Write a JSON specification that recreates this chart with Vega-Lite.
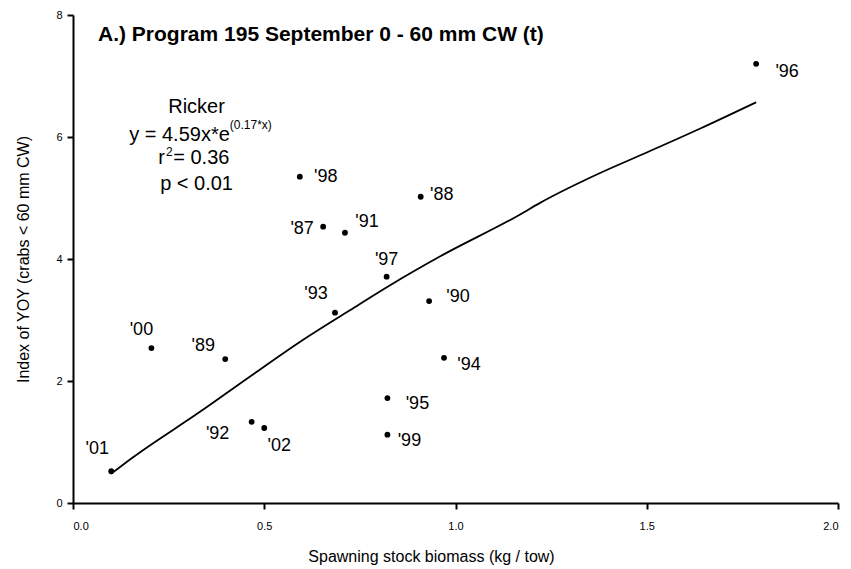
{
  "$schema": "https://vega.github.io/schema/vega-lite/v6.json",
  "width": 765,
  "height": 488,
  "autosize": "none",
  "padding": {"left": 73, "top": 15, "right": 13, "bottom": 66},
  "background": "white",
  "title": {"text": "A.) Program 195 September 0 - 60 mm CW (t)", "anchor": "start", "frame": "group", "dx": 25, "offset": -53, "baseline": "alphabetic", "fontSize": 21, "fontWeight": "bold", "font": "Liberation Sans", "color": "black"},
  "config": {
    "font": "Liberation Sans",
    "view": {"stroke": null},
    "axis": {"domainColor": "black", "domainWidth": 2, "tickColor": "black", "tickWidth": 2, "tickSize": 6, "labelFontSize": 11, "labelColor": "black", "labelFont": "Liberation Sans", "titleFont": "Liberation Sans", "titleFontSize": 16, "titleFontWeight": "normal", "titleColor": "black", "grid": false},
    "text": {"font": "Liberation Sans", "color": "black"}
  },
  "datasets": {
    "obs": [
      {"label": "'87", "ssb": 0.654, "yoy": 4.53},
      {"label": "'88", "ssb": 0.909, "yoy": 5.02},
      {"label": "'89", "ssb": 0.398, "yoy": 2.36},
      {"label": "'90", "ssb": 0.931, "yoy": 3.31},
      {"label": "'91", "ssb": 0.711, "yoy": 4.43},
      {"label": "'92", "ssb": 0.467, "yoy": 1.33},
      {"label": "'93", "ssb": 0.685, "yoy": 3.12},
      {"label": "'94", "ssb": 0.970, "yoy": 2.38},
      {"label": "'95", "ssb": 0.822, "yoy": 1.72},
      {"label": "'96", "ssb": 1.786, "yoy": 7.20},
      {"label": "'97", "ssb": 0.820, "yoy": 3.71},
      {"label": "'98", "ssb": 0.593, "yoy": 5.35},
      {"label": "'99", "ssb": 0.822, "yoy": 1.12},
      {"label": "'00", "ssb": 0.205, "yoy": 2.54},
      {"label": "'01", "ssb": 0.100, "yoy": 0.52},
      {"label": "'02", "ssb": 0.500, "yoy": 1.23}
    ],
    "fit": [
      {"ssb": 0.100, "yoy": 0.48},
      {"ssb": 0.157, "yoy": 0.75},
      {"ssb": 0.331, "yoy": 1.49},
      {"ssb": 0.462, "yoy": 2.07},
      {"ssb": 0.593, "yoy": 2.64},
      {"ssb": 0.724, "yoy": 3.16},
      {"ssb": 0.829, "yoy": 3.57},
      {"ssb": 0.959, "yoy": 4.04},
      {"ssb": 1.169, "yoy": 4.73},
      {"ssb": 1.221, "yoy": 4.92},
      {"ssb": 1.378, "yoy": 5.41},
      {"ssb": 1.483, "yoy": 5.70},
      {"ssb": 1.640, "yoy": 6.14},
      {"ssb": 1.786, "yoy": 6.57}
    ],
    "notes": [
      {"part": "model", "t": "Ricker", "ssb": 0.323, "yoy": 6.49},
      {"part": "eq", "t": "y = 4.59x*e", "ssb": 0.41, "yoy": 6.03},
      {"part": "sup", "t": "(0.17*x)", "ssb": 0.41, "yoy": 6.19},
      {"part": "r", "t": "r", "ssb": 0.240, "yoy": 5.66},
      {"part": "sup", "t": "2", "ssb": 0.243, "yoy": 5.75},
      {"part": "rval", "t": "= 0.36", "ssb": 0.262, "yoy": 5.66},
      {"part": "model", "t": "p < 0.01", "ssb": 0.323, "yoy": 5.225}
    ]
  },
  "encoding": {
    "x": {"field": "ssb", "type": "quantitative", "scale": {"domain": [0, 2], "nice": false, "zero": false}, "axis": {"title": "Spawning stock biomass (kg / tow)", "values": [0, 0.5, 1, 1.5, 2], "format": ".1f", "labelPadding": 11, "titleX": 358, "titleY": 58, "titleBaseline": "alphabetic"}},
    "y": {"field": "yoy", "type": "quantitative", "scale": {"domain": [0, 8], "nice": false}, "axis": {"title": "Index of YOY (crabs < 60 mm CW)", "values": [0, 2, 4, 6, 8], "format": "d", "labelPadding": 5, "titleX": -42, "titleY": 244}}
  },
  "layer": [
    {"data": {"name": "fit"}, "mark": {"type": "line", "color": "black", "strokeWidth": 1.8, "interpolate": "monotone"}},
    {"data": {"name": "obs"}, "mark": {"type": "circle", "color": "black", "opacity": 1, "size": 34}},
    {"data": {"name": "obs"},
     "encoding": {"text": {"field": "label", "type": "nominal"}},
     "layer": [
      {"transform": [{"filter": "datum.label == \"'01\""}], "mark": {"type": "text", "fontSize": 18, "dx": -14, "dy": -22, "baseline": "middle"}},
      {"transform": [{"filter": "datum.label == \"'00\""}], "mark": {"type": "text", "fontSize": 18, "dx": -10, "dy": -18, "baseline": "middle"}},
      {"transform": [{"filter": "datum.label == \"'89\""}], "mark": {"type": "text", "fontSize": 18, "dx": -22, "dy": -13, "baseline": "middle"}},
      {"transform": [{"filter": "datum.label == \"'93\""}], "mark": {"type": "text", "fontSize": 18, "dx": -19, "dy": -19, "baseline": "middle"}},
      {"transform": [{"filter": "datum.label == \"'97\""}], "mark": {"type": "text", "fontSize": 18, "dx": 0, "dy": -17, "baseline": "middle"}},
      {"transform": [{"filter": "datum.label == \"'92\""}], "mark": {"type": "text", "fontSize": 18, "dx": -34, "dy": 12, "baseline": "middle"}},
      {"transform": [{"filter": "datum.label == \"'02\""}], "mark": {"type": "text", "fontSize": 18, "dx": 15, "dy": 18, "baseline": "middle"}},
      {"transform": [{"filter": "datum.label == \"'99\""}], "mark": {"type": "text", "fontSize": 18, "dx": 22, "dy": 6, "baseline": "middle"}},
      {"transform": [{"filter": "datum.label == \"'95\""}], "mark": {"type": "text", "fontSize": 18, "dx": 30, "dy": 6, "baseline": "middle"}},
      {"transform": [{"filter": "datum.label == \"'94\""}], "mark": {"type": "text", "fontSize": 18, "dx": 25, "dy": 7, "baseline": "middle"}},
      {"transform": [{"filter": "datum.label == \"'90\""}], "mark": {"type": "text", "fontSize": 18, "dx": 29, "dy": -4, "baseline": "middle"}},
      {"transform": [{"filter": "datum.label == \"'98\""}], "mark": {"type": "text", "fontSize": 18, "dx": 26, "dy": 0, "baseline": "middle"}},
      {"transform": [{"filter": "datum.label == \"'87\""}], "mark": {"type": "text", "fontSize": 18, "dx": -21, "dy": 2, "baseline": "middle"}},
      {"transform": [{"filter": "datum.label == \"'91\""}], "mark": {"type": "text", "fontSize": 18, "dx": 22, "dy": -11, "baseline": "middle"}},
      {"transform": [{"filter": "datum.label == \"'88\""}], "mark": {"type": "text", "fontSize": 18, "dx": 21, "dy": -2, "baseline": "middle"}},
      {"transform": [{"filter": "datum.label == \"'96\""}], "mark": {"type": "text", "fontSize": 18, "dx": 31, "dy": 8, "baseline": "middle"}}
     ]},
    {"data": {"name": "notes"},
     "encoding": {"text": {"field": "t", "type": "nominal"}},
     "layer": [
      {"transform": [{"filter": "datum.part == 'model'"}], "mark": {"type": "text", "fontSize": 20, "align": "center", "baseline": "middle"}},
      {"transform": [{"filter": "datum.part == 'eq' || datum.part == 'r'"}], "mark": {"type": "text", "fontSize": 20, "align": "right", "baseline": "middle"}},
      {"transform": [{"filter": "datum.part == 'sup'"}], "mark": {"type": "text", "fontSize": 12, "align": "left", "baseline": "middle"}},
      {"transform": [{"filter": "datum.part == 'rval'"}], "mark": {"type": "text", "fontSize": 20, "align": "left", "baseline": "middle"}}
     ]}
  ]
}
